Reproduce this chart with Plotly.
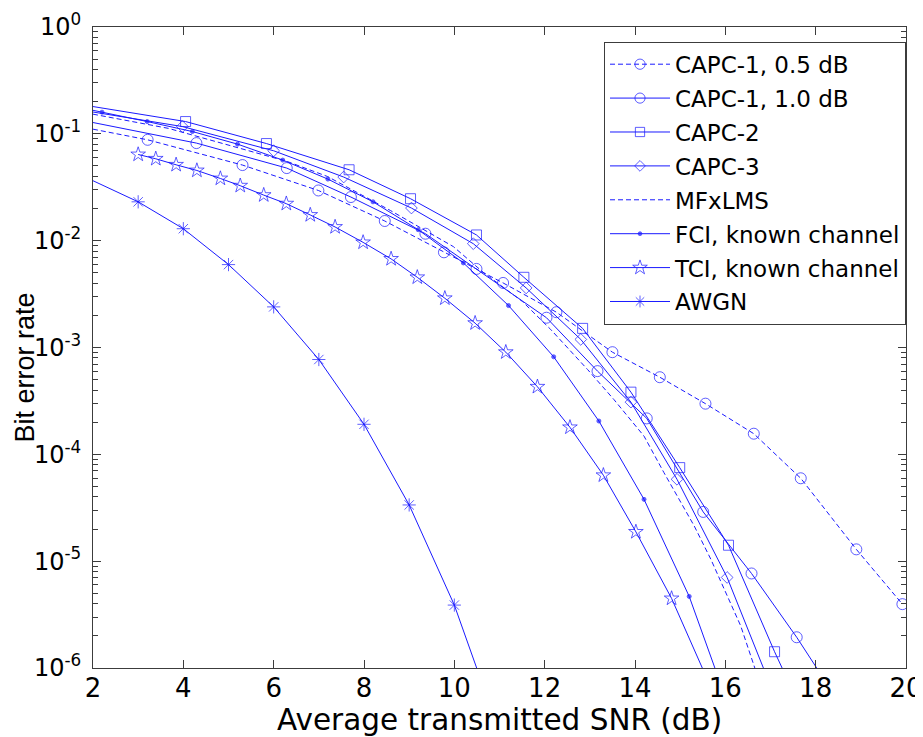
import plotly.graph_objects as go

# ---------------- data ----------------
capc1_05_x = [2.0, 3.21, 5.31, 6.99, 8.46, 9.77, 11.08, 12.26, 13.50, 14.55, 15.56, 16.63, 17.67, 18.90, 19.92]
capc1_05_y = [0.1106, 0.0879, 0.0510, 0.0295, 0.01528, 7.78e-3, 4.02e-3, 2.14e-3, 9.04e-4, 5.27e-4,
              2.98e-4, 1.56e-4, 5.97e-5, 1.29e-5, 3.96e-6]

capc1_10_x = [2.0, 4.29, 6.29, 7.71, 9.36, 10.49, 12.04, 13.17, 14.26, 15.51, 16.58, 17.58, 18.5]
capc1_10_y = [0.1276, 0.0819, 0.0478, 0.0256, 0.01162, 5.44e-3, 1.90e-3, 6.01e-4, 2.17e-4, 2.89e-5,
              7.67e-6, 1.94e-6, 4.9e-7]

capc2_x = [2.0, 4.05, 5.84, 7.67, 9.03, 10.49, 11.54, 12.84, 13.91, 14.99, 16.07, 17.09, 17.5]
capc2_y = [0.180, 0.1303, 0.0811, 0.0461, 0.0247, 0.01131, 4.54e-3, 1.51e-3, 3.82e-4, 7.51e-5,
           1.41e-5, 1.42e-6, 6.0e-7]

capc3_x = [2.0, 3.98, 6.00, 7.55, 9.05, 10.42, 11.59, 12.80, 13.91, 14.93, 16.04, 17.2]
capc3_y = [0.160, 0.1170, 0.0694, 0.0394, 0.0202, 9.37e-3, 3.61e-3, 1.19e-3, 3.08e-4, 5.84e-5,
           7.04e-6, 4.2e-7]

mfxlms_x = [2.0, 3.67, 6.30, 7.19, 8.59, 9.98, 10.65, 11.51, 12.13, 12.95, 13.53, 14.20, 14.64,
            15.31, 15.68, 16.01, 16.34, 16.66, 17.0]
mfxlms_y = [0.1528, 0.1125, 0.0551, 0.0399, 0.0191, 8.79e-3, 5.01e-3, 2.69e-3, 1.48e-3, 6.22e-4,
            3.27e-4, 1.48e-4, 6.75e-5, 2.14e-5, 1.04e-5, 5.09e-6, 2.48e-6, 9.8e-7, 4.0e-7]

fci_x = [2.0, 2.2, 3.2, 4.2, 5.2, 6.2, 7.2, 8.2, 9.2, 10.2, 11.2, 12.2, 13.2, 14.2, 15.2, 16.2]
fci_y = [0.166, 0.1595, 0.1303, 0.1051, 0.0801, 0.0568, 0.0377, 0.0231, 0.01267, 6.19e-3,
         2.47e-3, 8.18e-4, 2.05e-4, 3.79e-5, 4.68e-6, 3.1e-7]

tci_x = [3.00, 3.39, 3.84, 4.30, 4.82, 5.26, 5.78, 6.28, 6.81, 7.36, 7.98, 8.60, 9.18, 9.79,
         10.46, 11.14, 11.84, 12.56, 13.30, 14.02, 14.81, 15.6]
tci_y = [0.0641, 0.0584, 0.0513, 0.0454, 0.0382, 0.0327, 0.0267, 0.0222, 0.0174, 0.01343,
         9.64e-3, 6.75e-3, 4.54e-3, 2.89e-3, 1.69e-3, 9.04e-4, 4.29e-4, 1.79e-4, 6.37e-5,
         1.88e-5, 4.48e-6, 7.85e-7]

awgn_x = [2, 3, 4, 5, 6, 7, 8, 9, 10, 11]
awgn_y = [0.0364, 0.0231, 0.01294, 5.97e-3, 2.40e-3, 7.72e-4, 1.91e-4, 3.36e-5, 3.88e-6, 2.5e-7]

series_names = ["CAPC-1, 0.5 dB", "CAPC-1, 1.0 dB", "CAPC-2", "CAPC-3", "MFxLMS",
                "FCI, known channel", "TCI, known channel", "AWGN"]

x_title = "Average transmitted SNR (dB)"
y_title = "Bit error rate"
x_ticks = [2, 4, 6, 8, 10, 12, 14, 16, 18, 20]
y_ticks = [1e-6, 1e-5, 1e-4, 1e-3, 1e-2, 1e-1, 1]
y_tick_text = ["10<sup>-6</sup>", "10<sup>-5</sup>", "10<sup>-4</sup>", "10<sup>-3</sup>",
               "10<sup>-2</sup>", "10<sup>-1</sup>", "10<sup>0</sup>"]

# ---------------- style ----------------
BLUE = "#1a1aff"
AXC = "#3c3c3c"
DASH = "5px,3px"


def sizes(xs, s, first_hidden):
    out = [s] * len(xs)
    if first_hidden:
        out[0] = 0
    return out


specs = [
    (capc1_05_x, capc1_05_y, "circle-open", 11, DASH, True),
    (capc1_10_x, capc1_10_y, "circle-open", 11, "solid", True),
    (capc2_x, capc2_y, "square-open", 10, "solid", True),
    (capc3_x, capc3_y, "diamond-open", 9, "solid", True),
    (mfxlms_x, mfxlms_y, None, 0, DASH, False),
    (fci_x, fci_y, "circle", 4, "solid", True),
    (tci_x, tci_y, "star-open", 11, "solid", False),
    (awgn_x, awgn_y, "asterisk-open", 11, "solid", True),
]

fig = go.Figure()
for i, (xs, ys, sym, ms, dash, hide_first) in enumerate(specs):
    if sym is None:
        fig.add_trace(go.Scatter(
            x=xs, y=ys, mode="lines", name=series_names[i], legendgroup=str(i),
            line=dict(color=BLUE, width=1, dash=dash)))
    else:
        fig.add_trace(go.Scatter(
            x=xs, y=ys, mode="lines+markers", name=series_names[i], legendgroup=str(i),
            line=dict(color=BLUE, width=1, dash=dash),
            marker=dict(symbol=sym, size=sizes(xs, ms, hide_first), color=BLUE,
                        line=dict(color=BLUE, width=1))))

minor_vals = [k * 10.0 ** e for e in range(-6, 0) for k in range(2, 10)]

# the page body has an 8px margin, so the figure is sized/offset to compensate
fig.update_layout(
    width=915, height=729,
    margin=dict(l=85, r=17, t=19, b=69, autoexpand=False),
    paper_bgcolor="white", plot_bgcolor="white",
    font=dict(family="DejaVu Sans", size=26, color="black"),
    showlegend=True,
    legend=dict(
        x=1.0, xanchor="right", y=0.977, yanchor="top",
        bgcolor="white", bordercolor=AXC, borderwidth=1,
        font=dict(family="DejaVu Sans", size=23, color="black"),
        traceorder="grouped", tracegroupgap=1, itemwidth=60,
    ),
    xaxis=dict(
        range=[2, 20], tickvals=x_ticks, ticks="inside", ticklen=8, tickcolor=AXC,
        showline=True, linecolor=AXC, linewidth=1, mirror="ticks", showgrid=False,
        zeroline=False, automargin=False, ticklabeloverflow="allow", ticklabelstandoff=-3,
        tickfont=dict(family="DejaVu Sans", size=26),
    ),
    yaxis=dict(
        type="log", range=[-6, 0], tickvals=y_ticks, ticktext=y_tick_text,
        ticks="inside", ticklen=8, tickcolor=AXC, ticklabelstandoff=6,
        showline=True, linecolor=AXC, linewidth=1, mirror="ticks", showgrid=False,
        zeroline=False, automargin=False, ticklabeloverflow="allow",
        tickfont=dict(family="DejaVu Sans", size=24),
        minor=dict(tickvals=minor_vals, ticks="inside", ticklen=5, tickcolor=AXC, showgrid=False),
    ),
    annotations=[
        dict(text=x_title, xref="paper", yref="paper", x=0.5, y=0, xanchor="center",
             yanchor="middle", yshift=-52, showarrow=False,
             font=dict(family="DejaVu Sans", size=29.5, color="black")),
        dict(text=y_title, xref="paper", yref="paper", x=0, y=0.5, xanchor="center",
             yanchor="middle", xshift=-69, yshift=-20, textangle=-90, showarrow=False,
             font=dict(family="Liberation Sans", size=27, color="black")),
    ],
)

fig.write_html("out.html")
